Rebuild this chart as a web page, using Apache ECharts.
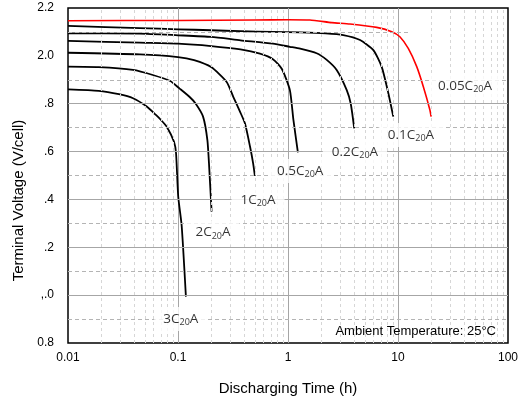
<!DOCTYPE html>
<html>
<head>
<meta charset="utf-8">
<script src="https://cdn.jsdelivr.net/npm/echarts@6/dist/echarts.min.js"></script>
<style>html,body{margin:0;padding:0;background:#fff}#c{width:528px;height:403px}</style>
</head>
<body>
<div id="c"></div>
<script>
// ---- data ----
var xTickLabels = ['0.01', '0.1', '1', '10', '100'];
var yTickLabels = ['0.8', ',.0', '.2', '.4', '.6', '.8', '2.0', '2.2'];
var rates = ['0.05', '0.1', '0.2', '0.5', '1', '2', '3'];

var t005 = [0.01, 0.1, 0.5, 1, 1.58, 2.5, 3.66, 6.4, 8.77, 10.4, 12.4, 14.8, 17.0, 19.5, 20];
var v005 = [2.147, 2.148, 2.150, 2.151, 2.150, 2.139, 2.133, 2.119, 2.101, 2.080, 2.031, 1.955, 1.871, 1.774, 1.746];

var t01 = [0.01, 0.045, 0.1, 0.2, 0.37, 0.73, 1.29, 2.2, 3.18, 4.52, 5.97, 7.1, 8.17, 9.06];
var v01 = [2.125, 2.116, 2.111, 2.107, 2.103, 2.100, 2.098, 2.094, 2.087, 2.066, 2.024, 1.955, 1.844, 1.746];

var t02 = [0.01, 0.045, 0.1, 0.2, 0.37, 0.73, 1.04, 1.29, 1.82, 2.25, 2.77, 3.42, 3.72, 4.0];
var v02 = [2.094, 2.093, 2.086, 2.079, 2.065, 2.051, 2.038, 2.030, 2.011, 1.983, 1.941, 1.857, 1.800, 1.697];

var t05 = [0.01, 0.045, 0.1, 0.2, 0.37, 0.556, 0.734, 0.88, 1.04, 1.12, 1.23];
var v05 = [2.063, 2.055, 2.051, 2.041, 2.027, 2.009, 1.985, 1.945, 1.857, 1.732, 1.597];

var t1 = [0.01, 0.045, 0.1, 0.14, 0.2, 0.277, 0.318, 0.366, 0.406, 0.452, 0.482, 0.50];
var v1 = [2.013, 2.006, 1.995, 1.982, 1.953, 1.891, 1.829, 1.767, 1.718, 1.620, 1.551, 1.498];

var t2 = [0.01, 0.019, 0.039, 0.059, 0.085, 0.103, 0.127, 0.145, 0.169, 0.185, 0.192, 0.202];
var v2 = [1.955, 1.953, 1.941, 1.920, 1.895, 1.864, 1.829, 1.800, 1.746, 1.648, 1.537, 1.349];

var t3 = [0.01, 0.019, 0.029, 0.039, 0.052, 0.063, 0.07, 0.079, 0.092, 0.096, 0.1005, 0.108, 0.118];
var v3 = [1.860, 1.854, 1.840, 1.823, 1.788, 1.753, 1.732, 1.704, 1.641, 1.593, 1.411, 1.29, 0.994];

// ---- build ----
function zip(a, b) { return a.map(function (x, i) { return [x, b[i]]; }); }
var curves = [
  { t: t005, v: v005, color: '#ff0000', w: 1.6 },
  { t: t01, v: v01, color: '#000', w: 1.8 },
  { t: t02, v: v02, color: '#000', w: 1.8 },
  { t: t05, v: v05, color: '#000', w: 1.8 },
  { t: t1, v: v1, color: '#000', w: 1.8 },
  { t: t2, v: v2, color: '#000', w: 1.8 },
  { t: t3, v: v3, color: '#000', w: 1.8 }
];
// label anchors in data units
var labelAt = [[40.6, 1.874], [13.1, 1.669], [4.06, 1.598], [1.29, 1.519], [0.534, 1.398], [0.208, 1.262], [0.106, 0.900]];

// gridlines
var vMinor = [];
[0.01, 0.1, 1, 10].forEach(function (d) { for (var k = 2; k <= 9; k++) vMinor.push({ xAxis: +(d * k).toPrecision(3) }); });
var hMajor = [1.0, 1.2, 1.4, 1.6, 1.8].map(function (v) { return { yAxis: v }; });
var hMinor = [0.9, 1.1, 1.3, 1.5, 1.7, 1.9].map(function (v) { return { yAxis: v }; });
hMinor.push([{ coord: [0.01, 2.1] }, { coord: [12.4, 2.1] }]);

var series = [];
series.push({
  type: 'line', data: [], z: 1, silent: true,
  markLine: { symbol: ['none', 'none'], silent: true, label: { show: false }, animation: false,
    lineStyle: { type: [3, 3], color: '#d6d6d6', width: 1 }, data: vMinor }
});
series.push({
  type: 'line', data: [], z: 1, silent: true,
  markLine: { symbol: ['none', 'none'], silent: true, label: { show: false }, animation: false,
    lineStyle: { type: 'solid', color: '#a6a6a6', width: 1 }, data: hMajor }
});
series.push({
  type: 'line', data: [], z: 1, silent: true,
  markLine: { symbol: ['none', 'none'], silent: true, label: { show: false }, animation: false,
    lineStyle: { type: [4, 3], color: '#b4b4b4', width: 1 }, data: hMinor }
});
curves.forEach(function (c) {
  series.push({
    type: 'line', data: zip(c.t, c.v), showSymbol: false, symbol: 'none', smooth: 0.2, z: 3,
    lineStyle: { color: c.color, width: c.w, join: 'round', cap: 'butt' }, animation: false
  });
});
series.push({
  type: 'scatter', symbolSize: 0, z: 6, silent: true, animation: false,
  data: labelAt.map(function (p, i) { return { value: p, name: rates[i] }; }),
  label: {
    show: true, position: 'inside', backgroundColor: '#fff', padding: [4, 9],
    formatter: function (p) { return '{m|' + p.name + 'C}{s|20}{m|A}'; },
    rich: {
      m: { fontSize: 13.5, fontFamily: 'Open Sans', color: '#000', lineHeight: 16 },
      s: { fontSize: 9, fontFamily: 'Open Sans', color: '#000', lineHeight: 10, verticalAlign: 'bottom' }
    }
  }
});

var chart = echarts.init(document.getElementById('c'), null, { renderer: 'canvas' });
chart.setOption({
  animation: false,
  backgroundColor: '#fff',
  title: {
    text: 'Ambient Temperature: 25°C', right: 32, top: 325, padding: 0,
    textStyle: { fontSize: 13, fontWeight: 'normal', color: '#000', fontFamily: 'Liberation Sans' }
  },
  grid: { left: 68, right: 20, top: 8, bottom: 60, show: true, borderColor: '#000', borderWidth: 1.5, backgroundColor: 'transparent' },
  xAxis: {
    type: 'log', logBase: 10, min: 0.01, max: 100,
    name: 'Discharging Time (h)', nameLocation: 'middle', nameGap: 38,
    nameTextStyle: { fontSize: 15, color: '#000', fontFamily: 'Liberation Sans' },
    axisLine: { show: false }, axisTick: { show: false },
    axisLabel: { margin: 9, fontSize: 12, color: '#000', fontFamily: 'Liberation Sans',
      formatter: function (v) { return xTickLabels[Math.round(Math.log10(v)) + 2]; } },
    splitLine: { show: true, lineStyle: { color: ['transparent', '#a6a6a6', '#a6a6a6', '#a6a6a6', 'transparent'], width: 1 } },
    minorTick: { show: false }, minorSplitLine: { show: false }
  },
  yAxis: {
    type: 'value', min: 0.8, max: 2.2, interval: 0.2,
    name: 'Terminal Voltage (V/cell)', nameLocation: 'middle', nameGap: 40,
    nameTextStyle: { fontSize: 15, color: '#000', fontFamily: 'Liberation Sans', padding: [0, 50, 0, 0] },
    axisLine: { show: false }, axisTick: { show: false },
    axisLabel: { margin: 14, fontSize: 12, color: '#000', fontFamily: 'Liberation Sans',
      formatter: function (v) { return yTickLabels[Math.round((v - 0.8) / 0.2)]; } },
    splitLine: { show: false }
  },
  series: series
});
</script>
</body>
</html>
